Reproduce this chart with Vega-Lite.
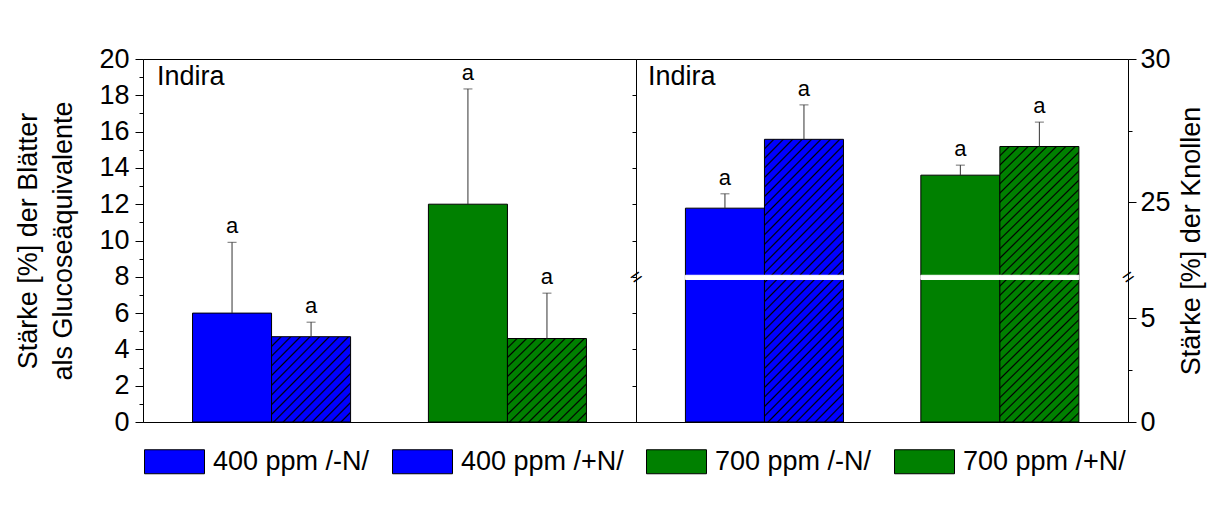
{
  "$schema": "https://vega.github.io/schema/vega-lite/v6.json",
  "autosize": {"type": "none"},
  "padding": {"left": 143, "top": 59, "right": 1080, "bottom": 448},
  "background": "white",
  "datasets": {
    "starch": [
      {"panel": "L", "co2": "400 ppm", "n": "-N", "label": "400 ppm /-N/", "value": 6.0, "upper": 9.9, "sig": "a"},
      {"panel": "L", "co2": "400 ppm", "n": "+N", "label": "400 ppm /+N/", "value": 4.7, "upper": 5.5, "sig": "a"},
      {"panel": "L", "co2": "700 ppm", "n": "-N", "label": "700 ppm /-N/", "value": 12.0, "upper": 18.35, "sig": "a"},
      {"panel": "L", "co2": "700 ppm", "n": "+N", "label": "700 ppm /+N/", "value": 4.6, "upper": 7.1, "sig": "a"},
      {"panel": "R", "co2": "400 ppm", "n": "-N", "label": "400 ppm /-N/", "value": 24.8, "upper": 25.3, "sig": "a"},
      {"panel": "R", "co2": "400 ppm", "n": "+N", "label": "400 ppm /+N/", "value": 27.2, "upper": 28.4, "sig": "a"},
      {"panel": "R", "co2": "700 ppm", "n": "-N", "label": "700 ppm /-N/", "value": 25.95, "upper": 26.3, "sig": "a"},
      {"panel": "R", "co2": "700 ppm", "n": "+N", "label": "700 ppm /+N/", "value": 26.95, "upper": 27.8, "sig": "a"}
    ]
  },
  "spacing": 0,
  "bounds": "flush",
  "hconcat": [
    {
      "width": 493,
      "height": 363,
      "data": {"name": "starch"},
      "transform": [{"filter": "datum.panel === 'L'"}],
      "title": {"text": "Indira", "anchor": "start", "frame": "group", "offset": -46, "dx": 14, "fontSize": 27, "fontWeight": "normal", "font": "Liberation Sans", "color": "black", "baseline": "top"},
      "encoding": {
        "x": {"field": "co2", "type": "nominal", "scale": {"paddingInner": 0.33, "paddingOuter": 0.21}, "axis": null},
        "xOffset": {"field": "n", "type": "nominal", "sort": ["-N", "+N"], "scale": {"paddingInner": 0, "paddingOuter": 0}}
      },
      "layer": [
        {
          "mark": {"type": "bar", "stroke": "black", "strokeWidth": 1},
          "encoding": {
            "y": {"field": "value", "type": "quantitative", "scale": {"domain": [0, 20], "nice": false, "zero": true},
              "axis": {"orient": "left", "values": [0,1,2,3,4,5,6,7,8,9,10,11,12,13,14,15,16,17,18,19,20], "labelExpr": "datum.value % 2 === 0 ? datum.label : ''", "tickSize": {"condition": {"test": "datum.value % 2 !== 0", "value": 4}, "value": 8}, "labelPadding": 6, "labelOverlap": false, "labelFlush": false, "title": ["Stärke [%] der Blätter", "als Glucoseäquivalente"], "titlePadding": 21, "titleLineHeight": 35}},
            "fill": {
              "field": "label", "type": "nominal",
              "scale": {"domain": ["400 ppm /-N/", "400 ppm /+N/", "700 ppm /-N/", "700 ppm /+N/"], "range": ["blue", "blue", "green", "green"]},
              "legend": {"orient": "none", "legendX": 1, "legendY": 372, "direction": "horizontal", "title": null, "symbolType": "M-1,-0.4L1,-0.4L1,0.4L-1,0.4Z", "symbolSize": 3600, "symbolStrokeColor": "black", "symbolStrokeWidth": 1, "symbolOpacity": 1, "labelFontSize": 27, "labelFont": "Liberation Sans", "labelColor": "black", "labelOffset": 8, "columnPadding": 20, "labelLimit": 400, "padding": 0},
              "condition": [
                {"test": "datum.label === '400 ppm /+N/'", "value": {"gradient": "linear", "x1": 0, "y1": 0, "x2": 0.966, "y2": 1.032, "stops": [
                  {"offset": 0, "color": "blue"},
                  {"offset": 0.0488, "color": "blue"}, {"offset": 0.0588, "color": "black"}, {"offset": 0.0688, "color": "blue"},
                  {"offset": 0.1076, "color": "blue"}, {"offset": 0.1176, "color": "black"}, {"offset": 0.1276, "color": "blue"},
                  {"offset": 0.1665, "color": "blue"}, {"offset": 0.1765, "color": "black"}, {"offset": 0.1865, "color": "blue"},
                  {"offset": 0.2253, "color": "blue"}, {"offset": 0.2353, "color": "black"}, {"offset": 0.2453, "color": "blue"},
                  {"offset": 0.2841, "color": "blue"}, {"offset": 0.2941, "color": "black"}, {"offset": 0.3041, "color": "blue"},
                  {"offset": 0.3429, "color": "blue"}, {"offset": 0.3529, "color": "black"}, {"offset": 0.3629, "color": "blue"},
                  {"offset": 0.4018, "color": "blue"}, {"offset": 0.4118, "color": "black"}, {"offset": 0.4218, "color": "blue"},
                  {"offset": 0.4606, "color": "blue"}, {"offset": 0.4706, "color": "black"}, {"offset": 0.4806, "color": "blue"},
                  {"offset": 0.5194, "color": "blue"}, {"offset": 0.5294, "color": "black"}, {"offset": 0.5394, "color": "blue"},
                  {"offset": 0.5782, "color": "blue"}, {"offset": 0.5882, "color": "black"}, {"offset": 0.5982, "color": "blue"},
                  {"offset": 0.6371, "color": "blue"}, {"offset": 0.6471, "color": "black"}, {"offset": 0.6571, "color": "blue"},
                  {"offset": 0.6959, "color": "blue"}, {"offset": 0.7059, "color": "black"}, {"offset": 0.7159, "color": "blue"},
                  {"offset": 0.7547, "color": "blue"}, {"offset": 0.7647, "color": "black"}, {"offset": 0.7747, "color": "blue"},
                  {"offset": 0.8135, "color": "blue"}, {"offset": 0.8235, "color": "black"}, {"offset": 0.8335, "color": "blue"},
                  {"offset": 0.8724, "color": "blue"}, {"offset": 0.8824, "color": "black"}, {"offset": 0.8924, "color": "blue"},
                  {"offset": 0.9312, "color": "blue"}, {"offset": 0.9412, "color": "black"}, {"offset": 0.9512, "color": "blue"},
                  {"offset": 1, "color": "blue"}]}},
                {"test": "datum.label === '700 ppm /+N/'", "value": {"gradient": "linear", "x1": 0, "y1": 0, "x2": 0.966, "y2": 1.032, "stops": [
                  {"offset": 0, "color": "green"},
                  {"offset": 0.0488, "color": "green"}, {"offset": 0.0588, "color": "black"}, {"offset": 0.0688, "color": "green"},
                  {"offset": 0.1076, "color": "green"}, {"offset": 0.1176, "color": "black"}, {"offset": 0.1276, "color": "green"},
                  {"offset": 0.1665, "color": "green"}, {"offset": 0.1765, "color": "black"}, {"offset": 0.1865, "color": "green"},
                  {"offset": 0.2253, "color": "green"}, {"offset": 0.2353, "color": "black"}, {"offset": 0.2453, "color": "green"},
                  {"offset": 0.2841, "color": "green"}, {"offset": 0.2941, "color": "black"}, {"offset": 0.3041, "color": "green"},
                  {"offset": 0.3429, "color": "green"}, {"offset": 0.3529, "color": "black"}, {"offset": 0.3629, "color": "green"},
                  {"offset": 0.4018, "color": "green"}, {"offset": 0.4118, "color": "black"}, {"offset": 0.4218, "color": "green"},
                  {"offset": 0.4606, "color": "green"}, {"offset": 0.4706, "color": "black"}, {"offset": 0.4806, "color": "green"},
                  {"offset": 0.5194, "color": "green"}, {"offset": 0.5294, "color": "black"}, {"offset": 0.5394, "color": "green"},
                  {"offset": 0.5782, "color": "green"}, {"offset": 0.5882, "color": "black"}, {"offset": 0.5982, "color": "green"},
                  {"offset": 0.6371, "color": "green"}, {"offset": 0.6471, "color": "black"}, {"offset": 0.6571, "color": "green"},
                  {"offset": 0.6959, "color": "green"}, {"offset": 0.7059, "color": "black"}, {"offset": 0.7159, "color": "green"},
                  {"offset": 0.7547, "color": "green"}, {"offset": 0.7647, "color": "black"}, {"offset": 0.7747, "color": "green"},
                  {"offset": 0.8135, "color": "green"}, {"offset": 0.8235, "color": "black"}, {"offset": 0.8335, "color": "green"},
                  {"offset": 0.8724, "color": "green"}, {"offset": 0.8824, "color": "black"}, {"offset": 0.8924, "color": "green"},
                  {"offset": 0.9312, "color": "green"}, {"offset": 0.9412, "color": "black"}, {"offset": 0.9512, "color": "green"},
                  {"offset": 1, "color": "green"}]}}
              ]
            }
          }
        },
        {
          "mark": {"type": "rule", "color": "#333333", "strokeWidth": 1},
          "encoding": {
            "y": {"field": "value", "type": "quantitative", "scale": {"domain": [0, 20], "nice": false, "zero": true},
              "axis": {"orient": "right", "values": [0,2,4,6,8,10,12,14,16,18,20], "labels": false, "domain": false, "tickSize": -4, "title": null}},
            "y2": {"field": "upper"}
          }
        },
        {
          "mark": {"type": "tick", "color": "#333333", "size": 9, "thickness": 1},
          "encoding": {"y": {"field": "upper", "type": "quantitative", "scale": {"domain": [0, 20], "nice": false, "zero": true}, "axis": null}}
        },
        {
          "mark": {"type": "text", "fontSize": 22, "font": "Liberation Sans", "color": "black", "baseline": "alphabetic", "align": "center", "dy": -9},
          "encoding": {"y": {"field": "upper", "type": "quantitative", "scale": {"domain": [0, 20], "nice": false, "zero": true}, "axis": null}, "text": {"field": "sig"}}
        }
      ],
      "resolve": {"axis": {"y": "independent"}}
    },
    {
      "width": 492,
      "height": 363,
      "data": {"name": "starch"},
      "transform": [{"filter": "datum.panel === 'R'"}],
      "title": {"text": "Indira", "anchor": "start", "frame": "group", "offset": -46, "dx": 12, "fontSize": 27, "fontWeight": "normal", "font": "Liberation Sans", "color": "black", "baseline": "top"},
      "encoding": {
        "x": {"field": "co2", "type": "nominal", "scale": {"paddingInner": 0.33, "paddingOuter": 0.21}, "axis": null},
        "xOffset": {"field": "n", "type": "nominal", "sort": ["-N", "+N"], "scale": {"paddingInner": 0, "paddingOuter": 0}}
      },
      "layer": [
        {
          "mark": {"type": "bar", "stroke": "black", "strokeWidth": 1},
          "encoding": {
            "y": {"field": "value", "type": "quantitative", "scale": {"domain": [0, 7, 22.4, 30], "range": [363, 218, 218, 0], "nice": false, "zero": false},
              "axis": {"orient": "right", "values": [0, 2.5, 5, 25, 27.5, 30], "labelExpr": "datum.value % 5 === 0 ? datum.label : ''", "tickSize": {"condition": {"test": "datum.value % 5 !== 0", "value": 4}, "value": 8}, "labelPadding": 4, "labelOverlap": false, "labelFlush": false, "title": "Stärke [%] der Knollen", "titleAngle": 270, "titleBaseline": "top", "titlePadding": 8}},
            "fill": {
              "field": "label", "type": "nominal",
              "scale": {"domain": ["400 ppm /-N/", "400 ppm /+N/", "700 ppm /-N/", "700 ppm /+N/"], "range": ["blue", "blue", "green", "green"]},
              "legend": null,
              "condition": [
                {"test": "datum.label === '400 ppm /+N/'", "value": {"gradient": "linear", "x1": 0, "y1": 0, "x2": 0.3364, "y2": 1.188, "stops": [
                  {"offset": 0, "color": "blue"},
                  {"offset": 0.0218, "color": "blue"}, {"offset": 0.0263, "color": "black"}, {"offset": 0.0308, "color": "blue"},
                  {"offset": 0.0481, "color": "blue"}, {"offset": 0.0526, "color": "black"}, {"offset": 0.0571, "color": "blue"},
                  {"offset": 0.0744, "color": "blue"}, {"offset": 0.0789, "color": "black"}, {"offset": 0.0834, "color": "blue"},
                  {"offset": 0.1008, "color": "blue"}, {"offset": 0.1053, "color": "black"}, {"offset": 0.1098, "color": "blue"},
                  {"offset": 0.1271, "color": "blue"}, {"offset": 0.1316, "color": "black"}, {"offset": 0.1361, "color": "blue"},
                  {"offset": 0.1534, "color": "blue"}, {"offset": 0.1579, "color": "black"}, {"offset": 0.1624, "color": "blue"},
                  {"offset": 0.1797, "color": "blue"}, {"offset": 0.1842, "color": "black"}, {"offset": 0.1887, "color": "blue"},
                  {"offset": 0.2060, "color": "blue"}, {"offset": 0.2105, "color": "black"}, {"offset": 0.2150, "color": "blue"},
                  {"offset": 0.2323, "color": "blue"}, {"offset": 0.2368, "color": "black"}, {"offset": 0.2413, "color": "blue"},
                  {"offset": 0.2587, "color": "blue"}, {"offset": 0.2632, "color": "black"}, {"offset": 0.2677, "color": "blue"},
                  {"offset": 0.2850, "color": "blue"}, {"offset": 0.2895, "color": "black"}, {"offset": 0.2940, "color": "blue"},
                  {"offset": 0.3113, "color": "blue"}, {"offset": 0.3158, "color": "black"}, {"offset": 0.3203, "color": "blue"},
                  {"offset": 0.3376, "color": "blue"}, {"offset": 0.3421, "color": "black"}, {"offset": 0.3466, "color": "blue"},
                  {"offset": 0.3639, "color": "blue"}, {"offset": 0.3684, "color": "black"}, {"offset": 0.3729, "color": "blue"},
                  {"offset": 0.3902, "color": "blue"}, {"offset": 0.3947, "color": "black"}, {"offset": 0.3992, "color": "blue"},
                  {"offset": 0.4166, "color": "blue"}, {"offset": 0.4211, "color": "black"}, {"offset": 0.4256, "color": "blue"},
                  {"offset": 0.4429, "color": "blue"}, {"offset": 0.4474, "color": "black"}, {"offset": 0.4519, "color": "blue"},
                  {"offset": 0.4692, "color": "blue"}, {"offset": 0.4737, "color": "black"}, {"offset": 0.4782, "color": "blue"},
                  {"offset": 0.4955, "color": "blue"}, {"offset": 0.5000, "color": "black"}, {"offset": 0.5045, "color": "blue"},
                  {"offset": 0.5218, "color": "blue"}, {"offset": 0.5263, "color": "black"}, {"offset": 0.5308, "color": "blue"},
                  {"offset": 0.5481, "color": "blue"}, {"offset": 0.5526, "color": "black"}, {"offset": 0.5571, "color": "blue"},
                  {"offset": 0.5744, "color": "blue"}, {"offset": 0.5789, "color": "black"}, {"offset": 0.5834, "color": "blue"},
                  {"offset": 0.6008, "color": "blue"}, {"offset": 0.6053, "color": "black"}, {"offset": 0.6098, "color": "blue"},
                  {"offset": 0.6271, "color": "blue"}, {"offset": 0.6316, "color": "black"}, {"offset": 0.6361, "color": "blue"},
                  {"offset": 0.6534, "color": "blue"}, {"offset": 0.6579, "color": "black"}, {"offset": 0.6624, "color": "blue"},
                  {"offset": 0.6797, "color": "blue"}, {"offset": 0.6842, "color": "black"}, {"offset": 0.6887, "color": "blue"},
                  {"offset": 0.7060, "color": "blue"}, {"offset": 0.7105, "color": "black"}, {"offset": 0.7150, "color": "blue"},
                  {"offset": 0.7323, "color": "blue"}, {"offset": 0.7368, "color": "black"}, {"offset": 0.7413, "color": "blue"},
                  {"offset": 0.7587, "color": "blue"}, {"offset": 0.7632, "color": "black"}, {"offset": 0.7677, "color": "blue"},
                  {"offset": 0.7850, "color": "blue"}, {"offset": 0.7895, "color": "black"}, {"offset": 0.7940, "color": "blue"},
                  {"offset": 0.8113, "color": "blue"}, {"offset": 0.8158, "color": "black"}, {"offset": 0.8203, "color": "blue"},
                  {"offset": 0.8376, "color": "blue"}, {"offset": 0.8421, "color": "black"}, {"offset": 0.8466, "color": "blue"},
                  {"offset": 0.8639, "color": "blue"}, {"offset": 0.8684, "color": "black"}, {"offset": 0.8729, "color": "blue"},
                  {"offset": 0.8902, "color": "blue"}, {"offset": 0.8947, "color": "black"}, {"offset": 0.8992, "color": "blue"},
                  {"offset": 0.9166, "color": "blue"}, {"offset": 0.9211, "color": "black"}, {"offset": 0.9256, "color": "blue"},
                  {"offset": 0.9429, "color": "blue"}, {"offset": 0.9474, "color": "black"}, {"offset": 0.9519, "color": "blue"},
                  {"offset": 0.9692, "color": "blue"}, {"offset": 0.9737, "color": "black"}, {"offset": 0.9782, "color": "blue"},
                  {"offset": 1, "color": "blue"}]}},
                {"test": "datum.label === '700 ppm /+N/'", "value": {"gradient": "linear", "x1": 0, "y1": 0, "x2": 0.3364, "y2": 1.188, "stops": [
                  {"offset": 0, "color": "green"},
                  {"offset": 0.0218, "color": "green"}, {"offset": 0.0263, "color": "black"}, {"offset": 0.0308, "color": "green"},
                  {"offset": 0.0481, "color": "green"}, {"offset": 0.0526, "color": "black"}, {"offset": 0.0571, "color": "green"},
                  {"offset": 0.0744, "color": "green"}, {"offset": 0.0789, "color": "black"}, {"offset": 0.0834, "color": "green"},
                  {"offset": 0.1008, "color": "green"}, {"offset": 0.1053, "color": "black"}, {"offset": 0.1098, "color": "green"},
                  {"offset": 0.1271, "color": "green"}, {"offset": 0.1316, "color": "black"}, {"offset": 0.1361, "color": "green"},
                  {"offset": 0.1534, "color": "green"}, {"offset": 0.1579, "color": "black"}, {"offset": 0.1624, "color": "green"},
                  {"offset": 0.1797, "color": "green"}, {"offset": 0.1842, "color": "black"}, {"offset": 0.1887, "color": "green"},
                  {"offset": 0.2060, "color": "green"}, {"offset": 0.2105, "color": "black"}, {"offset": 0.2150, "color": "green"},
                  {"offset": 0.2323, "color": "green"}, {"offset": 0.2368, "color": "black"}, {"offset": 0.2413, "color": "green"},
                  {"offset": 0.2587, "color": "green"}, {"offset": 0.2632, "color": "black"}, {"offset": 0.2677, "color": "green"},
                  {"offset": 0.2850, "color": "green"}, {"offset": 0.2895, "color": "black"}, {"offset": 0.2940, "color": "green"},
                  {"offset": 0.3113, "color": "green"}, {"offset": 0.3158, "color": "black"}, {"offset": 0.3203, "color": "green"},
                  {"offset": 0.3376, "color": "green"}, {"offset": 0.3421, "color": "black"}, {"offset": 0.3466, "color": "green"},
                  {"offset": 0.3639, "color": "green"}, {"offset": 0.3684, "color": "black"}, {"offset": 0.3729, "color": "green"},
                  {"offset": 0.3902, "color": "green"}, {"offset": 0.3947, "color": "black"}, {"offset": 0.3992, "color": "green"},
                  {"offset": 0.4166, "color": "green"}, {"offset": 0.4211, "color": "black"}, {"offset": 0.4256, "color": "green"},
                  {"offset": 0.4429, "color": "green"}, {"offset": 0.4474, "color": "black"}, {"offset": 0.4519, "color": "green"},
                  {"offset": 0.4692, "color": "green"}, {"offset": 0.4737, "color": "black"}, {"offset": 0.4782, "color": "green"},
                  {"offset": 0.4955, "color": "green"}, {"offset": 0.5000, "color": "black"}, {"offset": 0.5045, "color": "green"},
                  {"offset": 0.5218, "color": "green"}, {"offset": 0.5263, "color": "black"}, {"offset": 0.5308, "color": "green"},
                  {"offset": 0.5481, "color": "green"}, {"offset": 0.5526, "color": "black"}, {"offset": 0.5571, "color": "green"},
                  {"offset": 0.5744, "color": "green"}, {"offset": 0.5789, "color": "black"}, {"offset": 0.5834, "color": "green"},
                  {"offset": 0.6008, "color": "green"}, {"offset": 0.6053, "color": "black"}, {"offset": 0.6098, "color": "green"},
                  {"offset": 0.6271, "color": "green"}, {"offset": 0.6316, "color": "black"}, {"offset": 0.6361, "color": "green"},
                  {"offset": 0.6534, "color": "green"}, {"offset": 0.6579, "color": "black"}, {"offset": 0.6624, "color": "green"},
                  {"offset": 0.6797, "color": "green"}, {"offset": 0.6842, "color": "black"}, {"offset": 0.6887, "color": "green"},
                  {"offset": 0.7060, "color": "green"}, {"offset": 0.7105, "color": "black"}, {"offset": 0.7150, "color": "green"},
                  {"offset": 0.7323, "color": "green"}, {"offset": 0.7368, "color": "black"}, {"offset": 0.7413, "color": "green"},
                  {"offset": 0.7587, "color": "green"}, {"offset": 0.7632, "color": "black"}, {"offset": 0.7677, "color": "green"},
                  {"offset": 0.7850, "color": "green"}, {"offset": 0.7895, "color": "black"}, {"offset": 0.7940, "color": "green"},
                  {"offset": 0.8113, "color": "green"}, {"offset": 0.8158, "color": "black"}, {"offset": 0.8203, "color": "green"},
                  {"offset": 0.8376, "color": "green"}, {"offset": 0.8421, "color": "black"}, {"offset": 0.8466, "color": "green"},
                  {"offset": 0.8639, "color": "green"}, {"offset": 0.8684, "color": "black"}, {"offset": 0.8729, "color": "green"},
                  {"offset": 0.8902, "color": "green"}, {"offset": 0.8947, "color": "black"}, {"offset": 0.8992, "color": "green"},
                  {"offset": 0.9166, "color": "green"}, {"offset": 0.9211, "color": "black"}, {"offset": 0.9256, "color": "green"},
                  {"offset": 0.9429, "color": "green"}, {"offset": 0.9474, "color": "black"}, {"offset": 0.9519, "color": "green"},
                  {"offset": 0.9692, "color": "green"}, {"offset": 0.9737, "color": "black"}, {"offset": 0.9782, "color": "green"},
                  {"offset": 1, "color": "green"}]}}
              ]
            }
          }
        },
        {
          "mark": {"type": "bar", "color": "white", "stroke": "white", "strokeWidth": 1},
          "encoding": {
            "y": {"datum": 6.88, "type": "quantitative", "scale": {"domain": [0, 7, 22.4, 30], "range": [363, 218, 218, 0], "nice": false, "zero": false},
              "axis": {"orient": "right", "values": [7], "labelExpr": "'='", "ticks": false, "domain": false, "labelPadding": 0, "labelAlign": "center", "labelBaseline": "middle", "labelAngle": -35, "labelFontSize": 20, "labelOverlap": false, "labelFlush": false, "title": null}},
            "y2": {"datum": 22.46}
          }
        },
        {
          "mark": {"type": "rule", "color": "#333333", "strokeWidth": 1},
          "encoding": {
            "y": {"field": "value", "type": "quantitative", "scale": {"domain": [0, 7, 22.4, 30], "range": [363, 218, 218, 0], "nice": false, "zero": false},
              "axis": {"orient": "left", "values": [7], "labelExpr": "'='", "ticks": false, "domain": false, "labelPadding": 0, "labelAlign": "center", "labelBaseline": "middle", "labelAngle": -35, "labelFontSize": 20, "labelOverlap": false, "labelFlush": false, "title": null}},
            "y2": {"field": "upper"}
          }
        },
        {
          "mark": {"type": "tick", "color": "#333333", "size": 9, "thickness": 1},
          "encoding": {"y": {"field": "upper", "type": "quantitative", "scale": {"domain": [0, 7, 22.4, 30], "range": [363, 218, 218, 0], "nice": false, "zero": false}, "axis": null}}
        },
        {
          "mark": {"type": "text", "fontSize": 22, "font": "Liberation Sans", "color": "black", "baseline": "alphabetic", "align": "center", "dy": -9},
          "encoding": {"y": {"field": "upper", "type": "quantitative", "scale": {"domain": [0, 7, 22.4, 30], "range": [363, 218, 218, 0], "nice": false, "zero": false}, "axis": null}, "text": {"field": "sig"}}
        }
      ],
      "resolve": {"axis": {"y": "independent"}}
    }
  ],
  "config": {
    "view": {"stroke": "black", "strokeWidth": 1},
    "font": "Liberation Sans",
    "axis": {"domainColor": "black", "domainWidth": 1, "tickColor": "black", "tickWidth": 1, "labelColor": "black", "labelFont": "Liberation Sans", "labelFontSize": 27, "titleFont": "Liberation Sans", "titleFontSize": 27, "titleFontWeight": "normal", "titleColor": "black", "grid": false}
  }
}
